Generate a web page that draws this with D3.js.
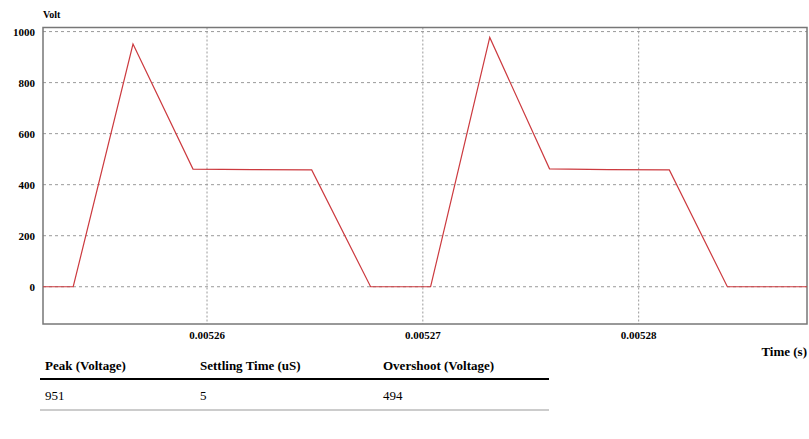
<!DOCTYPE html>
<html>
<head>
<meta charset="utf-8">
<script src="https://cdn.jsdelivr.net/npm/d3@7"></script>
<style>
  body { margin: 0; background: #fff; }
  text { font-family: "Liberation Serif", "Times New Roman", serif; }
</style>
</head>
<body>
<div id="chart"></div>
<script>
// waveform
var timeSec = [0.0052524, 0.0052538, 0.00525657, 0.00525935, 0.0052621, 0.00526485, 0.00526758,
               0.00527036, 0.0052731, 0.00527587, 0.0052786, 0.00528142, 0.00528411, 0.0052878];
var voltage = [0, 0, 951, 461, 459, 458, 0,
               0, 977, 462, 459, 458, 0, 0];
var yTicks = [0, 200, 400, 600, 800, 1000];
var xTicks = [0.00526, 0.00527, 0.00528];
var xTickLabels = ["0.00526", "0.00527", "0.00528"];

var tableHead = ["Peak (Voltage)", "Settling Time (uS)", "Overshoot (Voltage)"];
var tableRow = ["951", "5", "494"];

var width = 809, height = 439;
var plotLeft = 43, plotRight = 807, plotTop = 27.5, plotBottom = 324;

var svg = d3.select("#chart").append("svg")
  .attr("width", width)
  .attr("height", height);

var x = d3.scaleLinear()
  .domain([0.0052524, 0.0052878])
  .range([plotLeft, plotRight]);

var y = d3.scaleLinear()
  .domain([-146, 1016])
  .range([plotBottom, plotTop]);

// grid
svg.append("g").selectAll("line").data(yTicks).enter().append("line")
  .attr("x1", plotLeft).attr("x2", plotRight)
  .attr("y1", function(d){ return y(d); })
  .attr("y2", function(d){ return y(d); })
  .attr("stroke", "#9a9a9a")
  .attr("stroke-dasharray", "3,3");

svg.append("g").selectAll("line").data(xTicks).enter().append("line")
  .attr("y1", plotTop).attr("y2", plotBottom)
  .attr("x1", function(d){ return x(d); })
  .attr("x2", function(d){ return x(d); })
  .attr("stroke", "#9a9a9a")
  .attr("stroke-dasharray", "2,2");

// frame
svg.append("rect")
  .attr("x", plotLeft).attr("y", plotTop)
  .attr("width", plotRight - plotLeft).attr("height", plotBottom - plotTop)
  .attr("fill", "none")
  .attr("stroke", "#777")
  .attr("stroke-width", 1.5);

// tick labels
svg.append("g").selectAll("text").data(yTicks).enter().append("text")
  .attr("x", plotLeft - 8)
  .attr("y", function(d){ return y(d) + 4; })
  .attr("text-anchor", "end")
  .style("font-size", "11px")
  .style("font-weight", "bold")
  .text(function(d){ return d; });

svg.append("g").selectAll("text").data(xTicks).enter().append("text")
  .attr("x", function(d){ return x(d); })
  .attr("y", 339)
  .attr("text-anchor", "middle")
  .style("font-size", "11px")
  .style("font-weight", "bold")
  .text(function(d, i){ return xTickLabels[i]; });

svg.append("text")
  .attr("x", 43).attr("y", 18)
  .style("font-size", "10px")
  .style("font-weight", "bold")
  .text("Volt");

svg.append("text")
  .attr("x", 807).attr("y", 356)
  .attr("text-anchor", "end")
  .style("font-size", "13px")
  .style("font-weight", "bold")
  .text("Time (s)");

// signal
var line = d3.line()
  .x(function(d, i){ return x(timeSec[i]); })
  .y(function(d){ return y(d); });

svg.append("path")
  .datum(voltage)
  .attr("d", line)
  .attr("fill", "none")
  .attr("stroke", "#cc3a3f")
  .attr("stroke-width", 1.2);

// summary table
var colX = [45, 200, 383];
svg.append("g").selectAll("text").data(tableHead).enter().append("text")
  .attr("x", function(d, i){ return colX[i]; })
  .attr("y", 370)
  .style("font-size", "13px")
  .style("font-weight", "bold")
  .text(function(d){ return d; });

svg.append("line")
  .attr("x1", 40).attr("x2", 549)
  .attr("y1", 379).attr("y2", 379)
  .attr("stroke", "#000").attr("stroke-width", 2);

svg.append("g").selectAll("text").data(tableRow).enter().append("text")
  .attr("x", function(d, i){ return colX[i]; })
  .attr("y", 400)
  .style("font-size", "13px")
  .text(function(d){ return d; });

svg.append("line")
  .attr("x1", 40).attr("x2", 549)
  .attr("y1", 410).attr("y2", 410)
  .attr("stroke", "#999").attr("stroke-width", 1);
</script>
</body>
</html>
